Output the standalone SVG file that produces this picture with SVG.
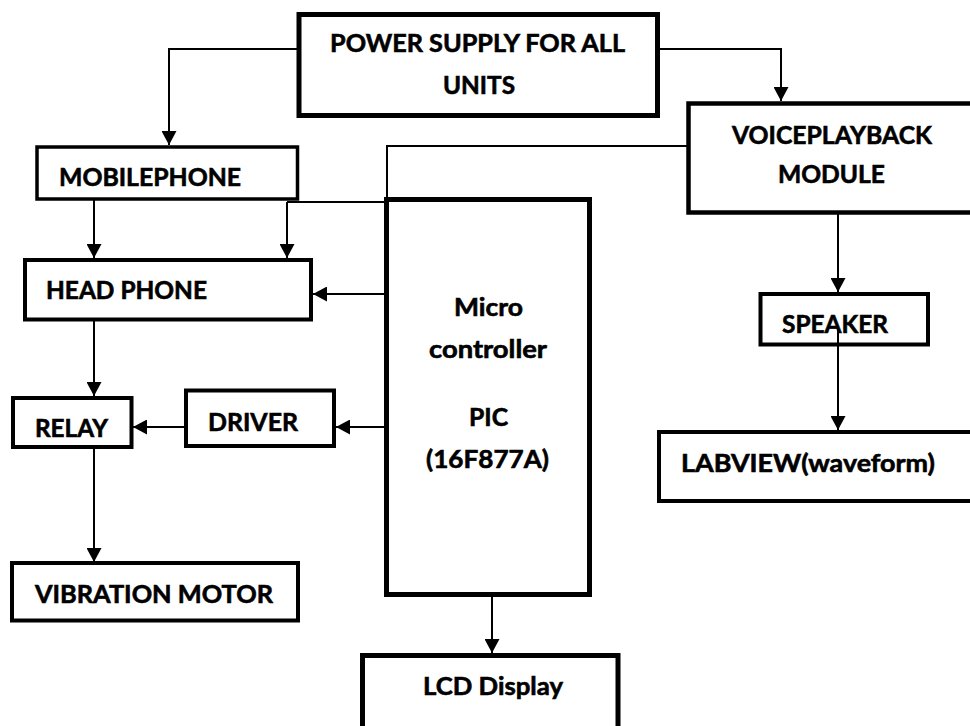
<svg xmlns="http://www.w3.org/2000/svg" width="970" height="726" viewBox="0 0 970 726">
<defs>
<marker id="ah" markerUnits="userSpaceOnUse" markerWidth="15" markerHeight="15" refX="14" refY="7.5" orient="auto">
<path d="M0,0 L14,7.5 L0,15 z" fill="#000"/>
</marker>
</defs>
<style>
.b{fill:#fff;stroke:#000}
.t{font-family:Lato,"Open Sans","Liberation Sans",sans-serif;font-weight:bold;font-size:25px;fill:#000;stroke:#000;stroke-width:0.6}
.c{fill:none;stroke:#000;stroke-width:2}
.a{marker-end:url(#ah)}
</style>
<rect width="970" height="726" fill="#fff"/>
<g id="connectors">
<path class="c a" d="M299,49 H169 V145"/>
<path class="c a" d="M657,49 H781 V101"/>
<path class="c" d="M688,146 H387 V199"/>
<path class="c" d="M287,202 H387"/>
<path class="c a" d="M94,200 V258"/>
<path class="c a" d="M287,202 V258"/>
<path class="c a" d="M386,294 H313"/>
<path class="c a" d="M94,321 V396"/>
<path class="c a" d="M386,427 H336"/>
<path class="c a" d="M185,427 H133"/>
<path class="c a" d="M94,448 V562"/>
<path class="c a" d="M492,596 V653"/>
<path class="c a" d="M838,213 V292"/>
<path class="c a" d="M838,327 V430"/>
</g>
<g id="power">
<rect class="b" x="299" y="14.5" width="358.5" height="101" stroke-width="5"/>
<text class="t" x="330" y="52" textLength="295" lengthAdjust="spacingAndGlyphs">POWER SUPPLY FOR ALL</text>
<text class="t" x="443" y="94" textLength="72" lengthAdjust="spacingAndGlyphs">UNITS</text>
</g>
<g id="mobilephone">
<rect class="b" x="37" y="147" width="260.5" height="52" stroke-width="3.5"/>
<text class="t" x="59" y="186" textLength="182" lengthAdjust="spacingAndGlyphs">MOBILEPHONE</text>
</g>
<g id="voiceplayback">
<rect class="b" x="688.5" y="103.5" width="300" height="109" stroke-width="4.5"/>
<text class="t" x="732" y="144" textLength="200" lengthAdjust="spacingAndGlyphs">VOICEPLAYBACK</text>
<text class="t" x="778" y="183" textLength="107" lengthAdjust="spacingAndGlyphs">MODULE</text>
</g>
<g id="headphone">
<rect class="b" x="25" y="260" width="286" height="59.5" stroke-width="4"/>
<text class="t" x="46" y="299" textLength="161" lengthAdjust="spacingAndGlyphs">HEAD PHONE</text>
</g>
<g id="microcontroller">
<rect class="b" x="386.5" y="199.5" width="203" height="395" stroke-width="5"/>
<text class="t" x="454" y="316" textLength="69" lengthAdjust="spacingAndGlyphs">Micro</text>
<text class="t" x="429" y="358" textLength="118" lengthAdjust="spacingAndGlyphs">controller</text>
<text class="t" x="469" y="426" textLength="39" lengthAdjust="spacingAndGlyphs">PIC</text>
<text class="t" x="426" y="468" textLength="123" lengthAdjust="spacingAndGlyphs">(16F877A)</text>
</g>
<g id="relay">
<rect class="b" x="13" y="398" width="118.5" height="49" stroke-width="4"/>
<text class="t" x="35" y="437" textLength="73" lengthAdjust="spacingAndGlyphs">RELAY</text>
</g>
<g id="driver">
<rect class="b" x="186" y="390.5" width="148" height="55.5" stroke-width="4"/>
<text class="t" x="208" y="431" textLength="90" lengthAdjust="spacingAndGlyphs">DRIVER</text>
</g>
<g id="vibration">
<rect class="b" x="12" y="563" width="286" height="57.5" stroke-width="4"/>
<text class="t" x="35" y="603" textLength="238" lengthAdjust="spacingAndGlyphs">VIBRATION MOTOR</text>
</g>
<g id="lcd">
<rect class="b" x="362.5" y="655.5" width="255.5" height="100" stroke-width="5"/>
<text class="t" x="423" y="695" textLength="140" lengthAdjust="spacingAndGlyphs">LCD Display</text>
</g>
<g id="speaker">
<rect class="b" x="760.5" y="294" width="167.5" height="50.5" stroke-width="4"/>
<text class="t" x="782" y="333" textLength="106" lengthAdjust="spacingAndGlyphs">SPEAKER</text>
</g>
<path class="c" d="M838,327 V345"/>
<g id="labview">
<rect class="b" x="659" y="432" width="330" height="69" stroke-width="4"/>
<text class="t" x="681" y="472" textLength="254" lengthAdjust="spacingAndGlyphs">LABVIEW(waveform)</text>
</g>
</svg>
